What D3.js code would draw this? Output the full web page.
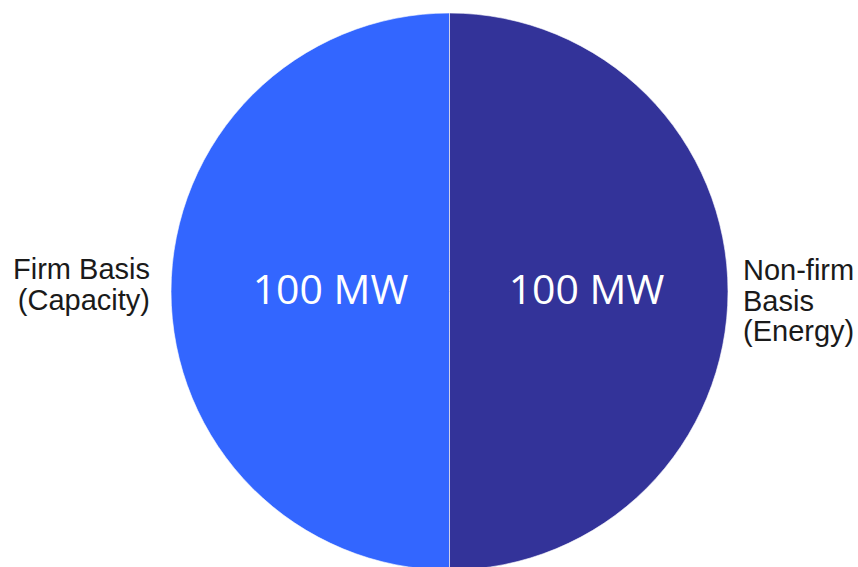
<!DOCTYPE html>
<html>
<head>
<meta charset="utf-8">
<script src="https://cdn.jsdelivr.net/npm/d3@7"></script>
<style>
  body { margin: 0; background: #fff; }
  svg { display: block; }
</style>
</head>
<body>
<svg id="chart" width="858" height="567"></svg>
<script>
// categories, values and labels
var categories = [["Firm Basis", "(Capacity)"], ["Non-firm", "Basis", "(Energy)"]];
var values = [100, 100];
var valueLabels = ["100 MW", "100 MW"];
var colors = ["#3366ff", "#333399"];

var svg = d3.select("#chart");
var cx = 449.5, cy = 291.5, radius = 278.5;

var g = svg.append("g").attr("transform", "translate(" + cx + "," + cy + ")");

// start at 6 o'clock so the first slice fills the left half
var pie = d3.pie().sort(null).startAngle(Math.PI).endAngle(3 * Math.PI);
var arcs = pie(values);

var arc = d3.arc().innerRadius(0).outerRadius(radius);
var labelArc = d3.arc().innerRadius(128).outerRadius(128);

g.selectAll("path.slice")
  .data(arcs)
  .enter().append("path")
    .attr("class", "slice")
    .attr("d", arc)
    .attr("fill", function(d, i) { return colors[i]; })
    .attr("stroke", "#ffffff")
    .attr("stroke-opacity", 0.6)
    .attr("stroke-width", 1);

// values inside the slices
g.selectAll("text.value")
  .data(arcs)
  .enter().append("text")
    .attr("class", "value")
    .attr("transform", function(d) {
      var c = labelArc.centroid(d);
      return "translate(" + (c[0] + 9) + "," + (c[1] + 12) + ")";
    })
    .attr("text-anchor", "middle")
    .style("font-family", "'Open Sans', sans-serif")
    .style("font-size", "41px")
    .style("fill", "#ffffff")
    .text(function(d, i) { return valueLabels[i]; });

// category labels outside
var outer = g.selectAll("text.cat")
  .data(arcs)
  .enter().append("text")
    .attr("class", "cat")
    .attr("text-anchor", function(d, i) { return i === 0 ? "end" : "start"; })
    .attr("x", function(d, i) { return i === 0 ? -(radius + 21) : radius + 15; })
    .attr("y", function(d, i) { return i === 0 ? -12.5 : -11.5; })
    .style("font-family", "'Liberation Sans', Arial, sans-serif")
    .style("font-size", "29px")
    .style("fill", "#1a1a1a");

outer.each(function(d, i) {
  var t = d3.select(this);
  categories[i].forEach(function(line, j) {
    t.append("tspan")
      .attr("x", t.attr("x"))
      .attr("dy", j === 0 ? 0 : 30.5)
      .text(line);
  });
});
</script>
</body>
</html>
